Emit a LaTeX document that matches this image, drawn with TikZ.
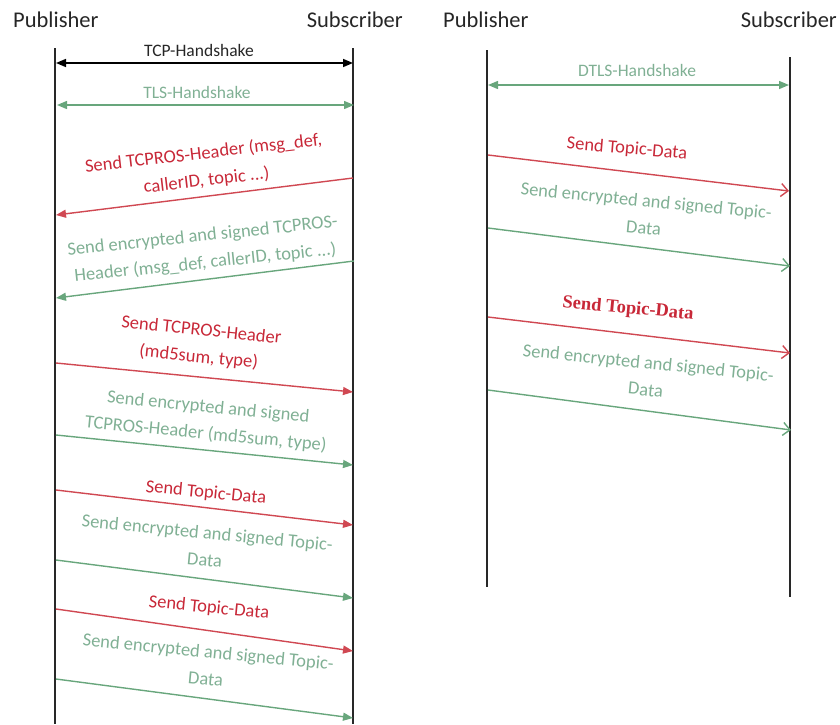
\documentclass[tikz,border=0pt]{standalone}
\usepackage{fontspec}
\setmainfont{Carlito}
\newfontfamily\serifx{Liberation Serif}
\usetikzlibrary{arrows.meta}
\definecolor{redline}{RGB}{208,72,82}
\definecolor{redtext}{RGB}{200,40,56}
\definecolor{greenline}{RGB}{104,166,124}
\definecolor{greentext}{RGB}{128,176,148}
\definecolor{lifeline}{RGB}{40,40,40}
\begin{document}
\begin{tikzpicture}[x=1pt,y=-1pt,
  life/.style={line width=1.6pt, draw=lifeline},
  title/.style={font=\fontsize{22.5}{26}\selectfont, text=black!85, inner sep=0},
  lbl/.style={font=\fontsize{18.5}{27}\selectfont, align=center, inner sep=0},
  rlbl/.style={lbl, text=redtext},
  glbl/.style={lbl, text=greentext},
  filledhead/.style={-{Triangle[length=10pt,width=8pt]}},
  openhead/.style={-{Straight Barb[length=7pt,width=13pt]}},
  rmsg/.style={draw=redline, line width=1.4pt},
  gmsg/.style={draw=greenline, line width=1.4pt},
  bmsg/.style={draw=black, line width=1.6pt}]
\useasboundingbox (0,0) rectangle (840,724);

% ---------- titles ----------
\node[title, anchor=base west] (pubL) at (13,27) {Publisher};
\node[title, anchor=base east] (subL) at (403,27) {Subscriber};
\node[title, anchor=base west] (pubR) at (443,27) {Publisher};
\node[title, anchor=base east] (subR) at (837,27) {Subscriber};

% ---------- left lifelines ----------
\coordinate (LPtop) at (55,48);  \coordinate (LPbot) at (55,724);
\coordinate (LStop) at (353,48); \coordinate (LSbot) at (353,724);
\draw[life] (LPtop) -- (LPbot);
\draw[life] (LStop) -- (LSbot);

% ---------- right lifelines ----------
\coordinate (RPtop) at (487,50);  \coordinate (RPbot) at (487,587);
\coordinate (RStop) at (790,57);  \coordinate (RSbot) at (790,597);
\draw[life] (RPtop) -- (RPbot);
\draw[life] (RStop) -- (RSbot);

% ---------- left messages ----------
\coordinate (a1) at (56,63);  \coordinate (b1) at (353,63);
\draw[bmsg, {Triangle[length=10pt,width=8pt]}-{Triangle[length=10pt,width=8pt]}] (a1) -- (b1);
\node[lbl, text=black!85, font=\fontsize{17.5}{22}\selectfont] (tcp) at (199,50) {TCP-Handshake};

\coordinate (a2) at (57,105); \coordinate (b2) at (354,105);
\draw[gmsg, {Triangle[length=10pt,width=8pt]}-{Triangle[length=10pt,width=8pt]}] (a2) -- (b2);
\node[glbl, font=\fontsize{17.5}{22}\selectfont] (tls) at (197,92) {TLS-Handshake};

\coordinate (a3) at (353,178); \coordinate (b3) at (56,215);
\draw[rmsg, filledhead] (a3) -- (b3);
\node[rlbl, rotate=6.6] (m3) at (205,167) {Send TCPROS-Header (msg\_def,\\callerID, topic ...)};

\coordinate (a4) at (354,261); \coordinate (b4) at (56,298);
\draw[gmsg, filledhead] (a4) -- (b4);
\node[glbl, rotate=6] (m4) at (204,250) {Send encrypted and signed TCPROS-\\Header (msg\_def, callerID, topic ...)};

\coordinate (a5) at (56,363); \coordinate (b5) at (353,392);
\draw[rmsg, filledhead] (a5) -- (b5);
\node[rlbl, rotate=-5.8] (m5) at (200,344) {Send TCPROS-Header\\(md5sum, type)};

\coordinate (a6) at (56,435); \coordinate (b6) at (353,465);
\draw[gmsg, filledhead] (a6) -- (b6);
\node[glbl, rotate=-5.5] (m6) at (207,421) {Send encrypted and signed\\TCPROS-Header (md5sum, type)};

\coordinate (a7) at (56,490); \coordinate (b7) at (353,525);
\draw[rmsg, filledhead] (a7) -- (b7);
\node[rlbl, rotate=-5.5] (m7) at (206,493) {Send Topic-Data};

\coordinate (a8) at (56,560); \coordinate (b8) at (353,598);
\draw[gmsg, filledhead] (a8) -- (b8);
\node[glbl, rotate=-5.5] (m8) at (206,546) {Send encrypted and signed Topic-\\Data};

\coordinate (a9) at (56,609); \coordinate (b9) at (353,651);
\draw[rmsg, filledhead] (a9) -- (b9);
\node[rlbl, rotate=-5.5] (m9) at (209,608) {Send Topic-Data};

\coordinate (a10) at (56,679); \coordinate (b10) at (353,718);
\draw[gmsg, filledhead] (a10) -- (b10);
\node[glbl, rotate=-5.5] (m10) at (207,665) {Send encrypted and signed Topic-\\Data};

% ---------- right messages ----------
\coordinate (c1) at (488,85); \coordinate (d1) at (789,85);
\draw[gmsg, {Triangle[length=10pt,width=8pt]}-{Triangle[length=10pt,width=8pt]}] (c1) -- (d1);
\node[glbl, font=\fontsize{17.5}{22}\selectfont] (dtls) at (637,70) {DTLS-Handshake};

\coordinate (c2) at (488,155); \coordinate (d2) at (789,191);
\draw[rmsg, openhead] (c2) -- (d2);
\node[rlbl, rotate=-4.8] (n2) at (627,149) {Send Topic-Data};

\coordinate (c3) at (488,228); \coordinate (d3) at (790,266);
\draw[gmsg, openhead] (c3) -- (d3);
\node[glbl, rotate=-5.5] (n3) at (645,214) {Send encrypted and signed Topic-\\Data};

\coordinate (c4) at (488,317); \coordinate (d4) at (790,353);
\draw[rmsg, openhead] (c4) -- (d4);
\node[rlbl, rotate=-5.3, font=\serifx\bfseries\fontsize{18.5}{22}\selectfont] (n4) at (628,309) {Send Topic-Data};

\coordinate (c5) at (488,390); \coordinate (d5) at (791,430);
\draw[gmsg, openhead] (c5) -- (d5);
\node[glbl, rotate=-5.8] (n5) at (647,376) {Send encrypted and signed Topic-\\Data};
\end{tikzpicture}
\end{document}
